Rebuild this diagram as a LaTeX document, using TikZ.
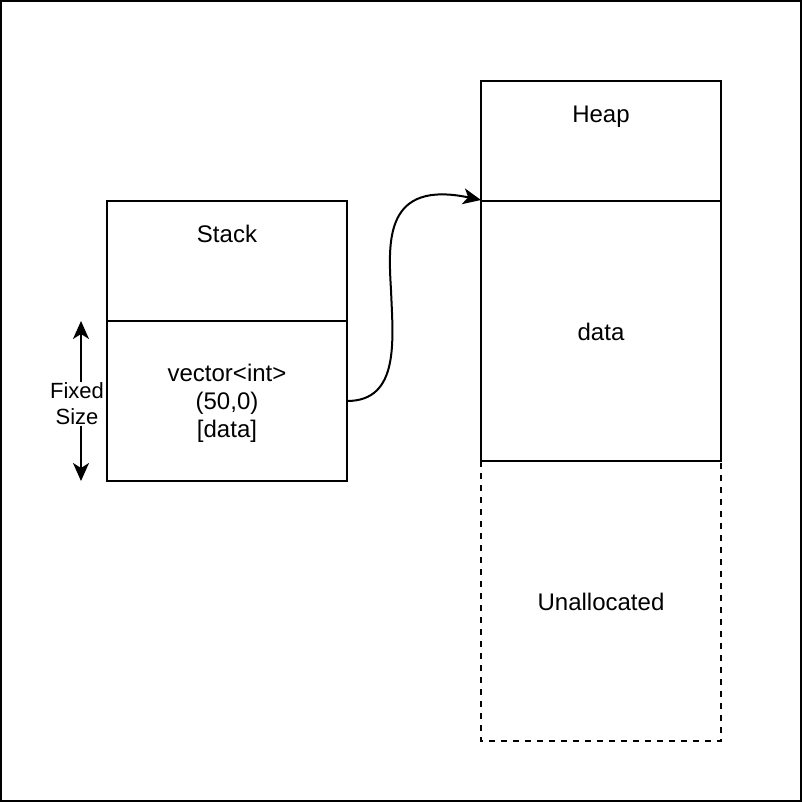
\documentclass[tikz,border=0pt]{standalone}
\usepackage{fontspec}
\setmainfont{Liberation Sans}
\usetikzlibrary{arrows.meta}
\begin{document}
\begin{tikzpicture}[x=1pt,y=-1pt,
  box/.style={draw,line width=2pt},
  lbl/.style={font=\fontsize{24}{28}\selectfont,align=center,inner sep=0pt},
  tip/.style={-{Stealth[length=18pt,width=16pt,inset=5pt]}},
]
\useasboundingbox (0,0) rectangle (802,802);
\draw[line width=2pt] (1,1) rectangle (801,801);
% stack
\draw[box] (107,201) rectangle (347,321);
\draw[box] (107,321) rectangle (347,481);
\coordinate (stackmid) at (347,401);
\node[lbl] (stack) at (227,234) {Stack};
\node[lbl] (vec) at (227,403) {vector<int>\\(50,0)\\{}[data]};
% heap
\draw[box] (481,81) rectangle (721,201);
\node[lbl] (heap) at (601,117) {Heap};
\draw[box,dashed,dash pattern=on 6pt off 6pt] (481,461) rectangle (721,741);
\draw[box] (481,201) rectangle (721,461);
\coordinate (heaptop) at (481,200);
\node[lbl] (data) at (601,332) {data};
\node[lbl] (unal) at (601,602) {Unallocated};
% connector
\draw[line width=2pt,tip] (stackmid) .. controls (400,401) and (393,340) .. (391,290)
  .. controls (388,240) and (385,180) .. (heaptop);
% fixed size
\coordinate (ft) at (81,321);
\coordinate (fb) at (81,481);
\draw[line width=2pt,{Stealth[length=18pt,width=16pt,inset=5pt]}-{Stealth[length=18pt,width=16pt,inset=5pt]}] (ft) -- (fb);
\node[lbl,font=\fontsize{22}{26}\selectfont,fill=white,inner sep=1pt] (fs) at (77,404) {Fixed\\Size};
\end{tikzpicture}
\end{document}
